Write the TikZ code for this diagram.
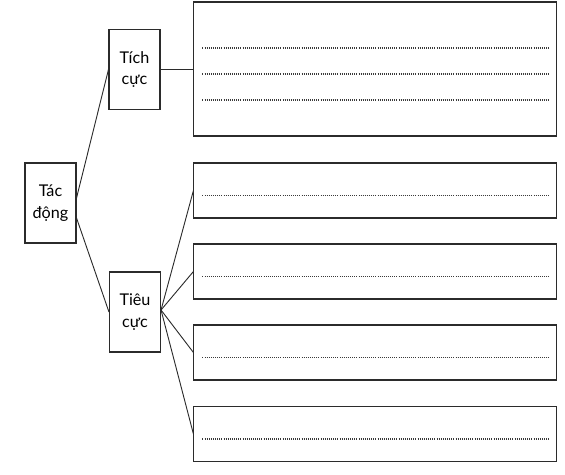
\documentclass[tikz,border=0pt]{standalone}
\usepackage{fontspec}
\setmainfont{Lato}
\usetikzlibrary{positioning,calc}
\definecolor{linegray}{HTML}{2B2B2B}
\definecolor{dotgray}{HTML}{3A3A3A}
\tikzset{
  topic/.style={draw=linegray,line width=0.75pt,align=center,minimum width=1.275cm,minimum height=2cm,inner sep=1pt,font=\fontsize{11.5}{15.6}\selectfont},
  answer/.style={draw=linegray,line width=0.75pt,minimum width=9.05cm},
  link/.style={draw=linegray,line width=0.65pt},
  dotrow/.style={draw=dotgray,line width=0.9pt,dash pattern=on 0.7pt off 0.8pt},
}

\begin{document}
\begin{tikzpicture}[x=0.025cm,y=-0.025cm]
    \useasboundingbox (0,0) rectangle (565,474);
    \node[topic] (tacdong) at (50.5,203) {Tác\\động};
    \node[topic] (tichcuc) at (134.5,69.5) {Tích\\cực};
    \node[topic] (tieucuc) at (135,312) {Tiêu\\cực};
    % answer boxes
    \node[answer,minimum height=3.35cm] (tichbox) at (375,69) {};
    \foreach \n/\y in {1/190.5,2/271.5,3/352.5,4/434}
      \node[answer,minimum height=1.375cm] (tieu\n) at (375,\y) {};
    % dotted writing lines
    \foreach \dy in {-21,5,31}
      \draw[dotrow] ($(tichbox.west)+(9,\dy)$) -- ($(tichbox.east)+(-7,\dy)$);
    \foreach \n in {1,...,4}
      \draw[dotrow] ($(tieu\n.west)+(9,5)$) -- ($(tieu\n.east)+(-7,5)$);
    % connectors
    \draw[link] ($(tacdong.east)+(0,-5)$) -- (tichcuc.west);
    \draw[link] ($(tacdong.east)+(0,15)$) -- (tieucuc.west);
    \draw[link] (tichcuc.east) -- (tichcuc.east -| tichbox.west);
    \foreach \n in {1,...,4}
      \draw[link] ($(tieucuc.east)+(0,-2)$) -- (tieu\n.west);
\end{tikzpicture}
\end{document}
